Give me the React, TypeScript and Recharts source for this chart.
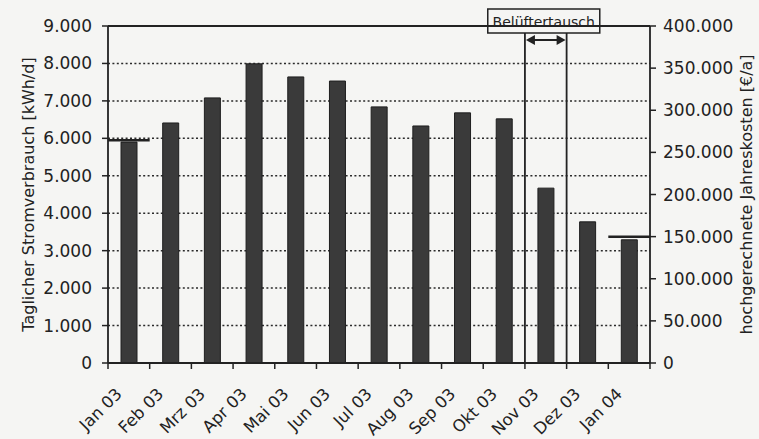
import React from "react";
import { Bar, ComposedChart, CartesianGrid, Line, ReferenceArea, ReferenceLine, XAxis, YAxis } from "recharts";

const months = ["Jan 03", "Feb 03", "Mrz 03", "Apr 03", "Mai 03", "Jun 03", "Jul 03", "Aug 03", "Sep 03", "Okt 03", "Nov 03", "Dez 03", "Jan 04"];
const dailyKwh = [5900, 6410, 7080, 7990, 7640, 7530, 6840, 6330, 6680, 6520, 4670, 3770, 3290];
const leftTicks = [0, 1000, 2000, 3000, 4000, 5000, 6000, 7000, 8000, 9000];
const rightTicks = [0, 50000, 100000, 150000, 200000, 250000, 300000, 350000, 400000];
const levelMonths = ["Jan 03", "Jan 04"];
const levelValues = [5950, 3370];
const swapMonth = "Nov 03";
const swapLabel = "Belüftertausch";

const W = 759;
const H = 439;
const LEFT_W = 108;
const RIGHT_W = 109;
const XAXIS_H = 76;
const TOP = 26;
const AXIS_Y = H - XAXIS_H;
const BAND = (W - LEFT_W - RIGHT_W) / months.length;

const BG = "#f5f5f3";
const INK = "#222";
const FONT = "'DejaVu Sans', 'Liberation Sans', sans-serif";

const data = months.map((m, i) => ({ month: m, kwh: dailyKwh[i] }));

const fmt = (v: number) => (v === 0 ? "0" : String(v).replace(/\B(?=(\d{3})+(?!\d))/g, "."));

const MonthTick = (props: any) => {
  const { x, payload, index } = props;
  const tx = x - 6;
  const ty = AXIS_Y + 32;
  return (
    <g>
      <line x1={x - BAND / 2} x2={x - BAND / 2} y1={AXIS_Y} y2={AXIS_Y + 6} stroke={INK} strokeWidth={1.5} />
      {index === months.length - 1 && (
        <line x1={x + BAND / 2} x2={x + BAND / 2} y1={AXIS_Y} y2={AXIS_Y + 6} stroke={INK} strokeWidth={1.5} />
      )}
      <text
        x={tx}
        y={ty}
        transform={`rotate(-45 ${tx} ${ty})`}
        textAnchor="end"
        fontSize={16.5}
        fontFamily={FONT}
        fill={INK}
      >
        {payload.value}
      </text>
    </g>
  );
};

const SwapMarker = (props: any) => {
  const { x, y, width, height } = props;
  const cx = x + width / 2 - 2;
  const ay = y + 14;
  return (
    <g>
      <line x1={x} x2={x} y1={y} y2={y + height} stroke={INK} strokeWidth={1.8} />
      <line x1={x + width} x2={x + width} y1={y} y2={y + height} stroke={INK} strokeWidth={1.8} />
      <line x1={x + 6} x2={x + width - 6} y1={ay} y2={ay} stroke={INK} strokeWidth={2} />
      <path d={`M${x + 1},${ay} L${x + 10},${ay - 5} L${x + 10},${ay + 5} Z`} fill={INK} />
      <path d={`M${x + width - 1},${ay} L${x + width - 10},${ay - 5} L${x + width - 10},${ay + 5} Z`} fill={INK} />
      <rect x={cx - 56} y={y - 17} width={112} height={24} fill={BG} stroke={INK} strokeWidth={1.5} />
      <text x={cx} y={y + 1} textAnchor="middle" fontSize={14} fontFamily={FONT} fill={INK}>
        {swapLabel}
      </text>
    </g>
  );
};

const axisTitle = (text: string, dx: number) => (props: any) => {
  const vb = props.viewBox || {};
  const cx = vb.x + dx;
  const cy = vb.y + vb.height / 2;
  return (
    <text
      x={cx}
      y={cy}
      transform={`rotate(-90 ${cx} ${cy})`}
      textAnchor="middle"
      dominantBaseline="central"
      fontSize={16}
      fontFamily={FONT}
      fill={INK}
    >
      {text}
    </text>
  );
};

export default function App() {
  return (
    <div style={{ position: "absolute", left: 0, top: 0, width: W, height: H, background: BG }}>
      <ComposedChart width={W} height={H} data={data} margin={{ top: TOP, right: 0, bottom: 0, left: 0 }}>
        <CartesianGrid yAxisId="left" vertical={false} stroke="#2a2a2a" strokeWidth={1.5} strokeDasharray="2 2.4" />
        <XAxis
          dataKey="month"
          height={XAXIS_H}
          interval={0}
          tickLine={false}
          tickSize={6}
          tickMargin={0}
          axisLine={{ stroke: INK, strokeWidth: 1.8 }}
          tick={<MonthTick />}
        />
        <YAxis
          yAxisId="left"
          width={LEFT_W}
          domain={[0, 9000]}
          ticks={leftTicks}
          tickFormatter={fmt}
          tickSize={6}
          tick={{ fontSize: 17, fontFamily: FONT, fill: INK, dx: -8 }}
          tickLine={{ stroke: INK, strokeWidth: 1.5 }}
          axisLine={{ stroke: INK, strokeWidth: 1.8 }}
          label={{ content: axisTitle("Taglicher Stromverbrauch [kWh/d]", 28) }}
        />
        <YAxis
          yAxisId="right"
          orientation="right"
          width={RIGHT_W}
          type="number"
          domain={[0, 400000]}
          allowDataOverflow
          ticks={rightTicks}
          tickFormatter={fmt}
          tickSize={6}
          tick={{ fontSize: 17, fontFamily: FONT, fill: INK, dx: 5 }}
          tickLine={{ stroke: INK, strokeWidth: 1.5 }}
          axisLine={{ stroke: INK, strokeWidth: 1.8 }}
          label={{ content: axisTitle("hochgerechnete Jahreskosten [€/a]", 96) }}
        />
        <ReferenceLine yAxisId="left" y={9000} stroke={INK} strokeWidth={1.8} />
        <Bar yAxisId="left" dataKey="kwh" fill="#3a3a3a" stroke="#1e1e1e" strokeWidth={1} barSize={16} isAnimationActive={false} />
        <Line yAxisId="right" dataKey="kwh" stroke="none" dot={false} activeDot={false} legendType="none" isAnimationActive={false} />
        {levelMonths.map((m, i) => (
          <ReferenceArea
            key={m}
            yAxisId="left"
            x1={m}
            x2={m}
            y1={levelValues[i] - 35}
            y2={levelValues[i] + 35}
            ifOverflow="visible"
            fill={INK}
            fillOpacity={1}
            stroke="none"
          />
        ))}
        <ReferenceArea
          yAxisId="left"
          x1={swapMonth}
          x2={swapMonth}
          y1={0}
          y2={9000}
          ifOverflow="visible"
          shape={<SwapMarker />}
        />
      </ComposedChart>
    </div>
  );
}
